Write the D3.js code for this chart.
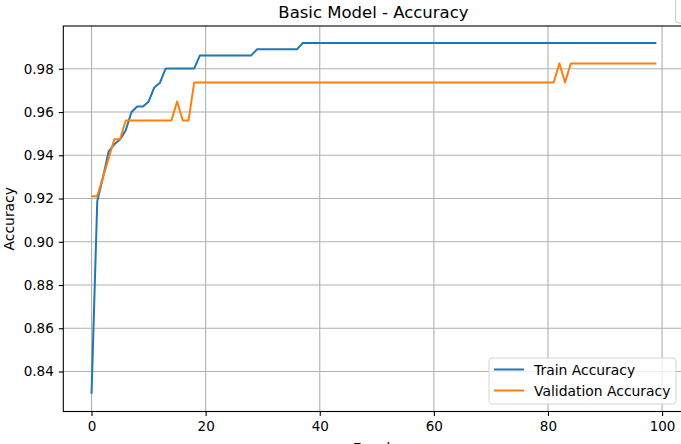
<!DOCTYPE html>
<html lang="en">
<head>
    <meta charset="UTF-8">
    <title>Basic Model - Accuracy</title>
    <script src="https://d3js.org/d3.v7.min.js"></script>
    <style>
        body { margin: 0; background: #fff; }
        text { font-family: "DejaVu Sans", sans-serif; fill: #000; }
    </style>
</head>
<body>
    <svg></svg>
    <script>
        const trainAccuracy = [
            0.8297, 0.9187, 0.9297, 0.9418, 0.9451, 0.9473, 0.9516, 0.9600, 0.9626, 0.9626,
            0.9648, 0.9714, 0.9736, 0.9802, 0.9802, 0.9802, 0.9802, 0.9802, 0.9802, 0.9862,
            0.9862, 0.9862, 0.9862, 0.9862, 0.9862, 0.9862, 0.9862, 0.9862, 0.9862, 0.9890,
            0.9890, 0.9890, 0.9890, 0.9890, 0.9890, 0.9890, 0.9890, 0.9919, 0.9919, 0.9919,
            0.9919, 0.9919, 0.9919, 0.9919, 0.9919, 0.9919, 0.9919, 0.9919, 0.9919, 0.9919,
            0.9919, 0.9919, 0.9919, 0.9919, 0.9919, 0.9919, 0.9919, 0.9919, 0.9919, 0.9919,
            0.9919, 0.9919, 0.9919, 0.9919, 0.9919, 0.9919, 0.9919, 0.9919, 0.9919, 0.9919,
            0.9919, 0.9919, 0.9919, 0.9919, 0.9919, 0.9919, 0.9919, 0.9919, 0.9919, 0.9919,
            0.9919, 0.9919, 0.9919, 0.9919, 0.9919, 0.9919, 0.9919, 0.9919, 0.9919, 0.9919,
            0.9919, 0.9919, 0.9919, 0.9919, 0.9919, 0.9919, 0.9919, 0.9919, 0.9919, 0.9919
        ];
        const valAccuracy = [
            0.9211, 0.9211, 0.9298, 0.9386, 0.9474, 0.9474, 0.9561, 0.9561, 0.9561, 0.9561,
            0.9561, 0.9561, 0.9561, 0.9561, 0.9561, 0.9649, 0.9561, 0.9561, 0.9737, 0.9737,
            0.9737, 0.9737, 0.9737, 0.9737, 0.9737, 0.9737, 0.9737, 0.9737, 0.9737, 0.9737,
            0.9737, 0.9737, 0.9737, 0.9737, 0.9737, 0.9737, 0.9737, 0.9737, 0.9737, 0.9737,
            0.9737, 0.9737, 0.9737, 0.9737, 0.9737, 0.9737, 0.9737, 0.9737, 0.9737, 0.9737,
            0.9737, 0.9737, 0.9737, 0.9737, 0.9737, 0.9737, 0.9737, 0.9737, 0.9737, 0.9737,
            0.9737, 0.9737, 0.9737, 0.9737, 0.9737, 0.9737, 0.9737, 0.9737, 0.9737, 0.9737,
            0.9737, 0.9737, 0.9737, 0.9737, 0.9737, 0.9737, 0.9737, 0.9737, 0.9737, 0.9737,
            0.9737, 0.9737, 0.9825, 0.9737, 0.9825, 0.9825, 0.9825, 0.9825, 0.9825, 0.9825,
            0.9825, 0.9825, 0.9825, 0.9825, 0.9825, 0.9825, 0.9825, 0.9825, 0.9825, 0.9825
        ];
        const xTicks = [0, 20, 40, 60, 80, 100];
        const yTicks = [0.84, 0.86, 0.88, 0.90, 0.92, 0.94, 0.96, 0.98];
        const seriesNames = ["Train Accuracy", "Validation Accuracy"];
        const colors = ["#1f77b4", "#ff7f0e"];

        const width = 681, height = 444;
        const plot = { left: 63.3, right: 684.6, top: 26, bottom: 411.5 };

        const svg = d3.select("svg")
            .attr("width", width)
            .attr("height", height);

        const x = d3.scaleLinear().domain([-4.95, 103.95]).range([plot.left, plot.right]);
        const y = d3.scaleLinear().domain([0.8215, 0.9998]).range([plot.bottom, plot.top]);

        // grid
        svg.append("g")
            .selectAll("line")
            .data(xTicks)
            .join("line")
            .attr("x1", d => x(d)).attr("x2", d => x(d))
            .attr("y1", plot.top).attr("y2", plot.bottom)
            .attr("stroke", "#b0b0b0").attr("stroke-width", 1.1);
        svg.append("g")
            .selectAll("line")
            .data(yTicks)
            .join("line")
            .attr("x1", plot.left).attr("x2", plot.right)
            .attr("y1", d => y(d)).attr("y2", d => y(d))
            .attr("stroke", "#b0b0b0").attr("stroke-width", 1.1);

        // lines
        const line = d3.line()
            .x((d, i) => x(i))
            .y(d => y(d));
        [trainAccuracy, valAccuracy].forEach((series, k) => {
            svg.append("path")
                .datum(series)
                .attr("d", line)
                .attr("fill", "none")
                .attr("stroke", colors[k])
                .attr("stroke-width", 2)
                .attr("stroke-linejoin", "round");
        });

        // axes
        const xAxis = d3.axisBottom(x).tickValues(xTicks).tickSize(4.5).tickPadding(5).tickFormat(d3.format("d"));
        const yAxis = d3.axisLeft(y).tickValues(yTicks).tickSize(4.5).tickPadding(5).tickFormat(d3.format(".2f"));

        const gx = svg.append("g").attr("transform", `translate(0,${plot.bottom})`).call(xAxis);
        const gy = svg.append("g").attr("transform", `translate(${plot.left},0)`).call(yAxis);
        [gx, gy].forEach(g => {
            g.select(".domain").remove();
            g.selectAll("line").attr("stroke", "#000").attr("stroke-width", 1.1);
            g.selectAll("text").attr("font-size", 13.5).attr("font-family", "DejaVu Sans").attr("fill", "#000");
        });

        // spines
        svg.append("rect")
            .attr("x", plot.left).attr("y", plot.top)
            .attr("width", plot.right - plot.left).attr("height", plot.bottom - plot.top)
            .attr("fill", "none").attr("stroke", "#000").attr("stroke-width", 1.1);

        // title and labels
        svg.append("text")
            .attr("x", (plot.left + plot.right) / 2 - 0.5).attr("y", 18)
            .attr("text-anchor", "middle").attr("font-size", 16.5)
            .text("Basic Model - Accuracy");
        svg.append("text")
            .attr("transform", `translate(14,${(plot.top + plot.bottom) / 2}) rotate(-90)`)
            .attr("text-anchor", "middle").attr("font-size", 13.9)
            .text("Accuracy");
        svg.append("text")
            .attr("x", (plot.left + plot.right) / 2).attr("y", 453)
            .attr("text-anchor", "middle").attr("font-size", 13.9)
            .text("Epoch");

        // legend
        const lg = svg.append("g").attr("transform", "translate(489,358)");
        lg.append("rect")
            .attr("width", 187).attr("height", 46).attr("rx", 3)
            .attr("fill", "#fff").attr("fill-opacity", 0.8)
            .attr("stroke", "#d5d5d5").attr("stroke-width", 1);
        seriesNames.forEach((name, k) => {
            const cy = 11.5 + k * 21;
            lg.append("line")
                .attr("x1", 5).attr("x2", 35).attr("y1", cy).attr("y2", cy)
                .attr("stroke", colors[k]).attr("stroke-width", 2);
            lg.append("text")
                .attr("x", 45).attr("y", cy + 5)
                .attr("font-size", 13.9)
                .text(name);
        });

        // edge of a neighbouring box clipped at the top right
        svg.append("rect")
            .attr("x", 675.5).attr("y", -6).attr("width", 30).attr("height", 29).attr("rx", 3)
            .attr("fill", "#fff").attr("stroke", "#c8c8c8").attr("stroke-width", 1);
    </script>
</body>
</html>
